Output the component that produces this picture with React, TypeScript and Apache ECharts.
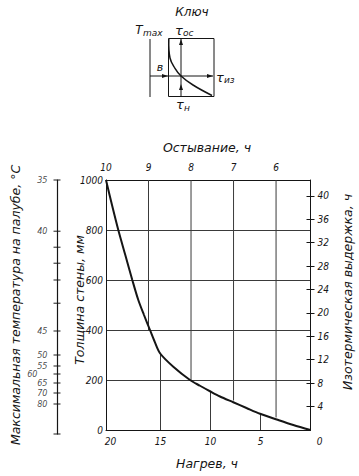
import React, { useEffect, useRef } from "react";
import * as echarts from "echarts";

// ---- data ----
// main curve: heating time (h) vs wall thickness (mm)
const heatingHours = [20.45, 19.85, 19.22, 18.52, 17.82, 17.22, 16.65, 16.05, 15.62, 15.05, 13.72, 12.05, 11.05, 10.05, 9.05, 7.72, 6.4, 5.05, 3.38, 1.72, 0];
const wallThicknessMm = [1000, 900, 800, 700, 600, 520, 460, 400, 357, 307, 253, 200, 177, 155, 134, 111, 88, 65, 42, 20, 0];

// bottom axis (heating, h)
const heatingTicks = [20, 15, 10, 5, 0];
const heatingMax = 20.45;
// partial grid lines from the heating axis (0 mm) up to the curve
const heatingGridHours = [15, 10, 5];
const heatingGridEndMm = [309, 156, 64];

// top axis (cooling, h)
const coolingTicks = [10, 9, 8, 7, 6];
const coolingMin = 5.19;
const coolingMax = 10;
// partial grid lines from the cooling ticks (at 1000 mm) down to the curve
const coolingGridHours = [9, 8, 7, 6];
const coolingGridEndMm = [400, 200, 118, 50];

// left axis (wall thickness, mm)
const thicknessTicks = [0, 200, 400, 600, 800, 1000];

// right axis (isothermal holding, h)
const isoTicks = [4, 8, 12, 16, 20, 24, 28, 32, 36, 40];
const isoMax = 42.7;

// far-left nonlinear axis: max deck temperature (°C) and its position on the thickness scale (mm)
const tempValues = [35, 40, 41, 42, 43, 44, 45, 50, 55, 60, 65, 70, 80];
const tempPosMm = [1000, 795, 731, 667, 600, 507, 396, 300, 256, 224, 188, 148, 104];
const tempLabeled = [true, true, false, false, false, false, true, true, true, true, true, true, true];
const tempAxisEndMm = -16;

const FONT = "'DejaVu Sans', 'Liberation Sans', sans-serif";
const NUMFONT = "'DejaVu Sans Condensed', 'Liberation Sans Narrow', 'Liberation Sans', sans-serif";
const INK = "#151515";
const GRID = "#3a3a3a";

const numLabel = {
  fontSize: 10,
  fontStyle: "italic" as const,
  color: INK,
  fontFamily: NUMFONT,
};

function txt(text: string, x: number, y: number, size: number, opts: any = {}) {
  return {
    type: "text",
    x,
    y,
    rotation: opts.rotation || 0,
    style: {
      text,
      fontSize: size,
      fontStyle: "italic",
      fontFamily: FONT,
      fill: INK,
      align: opts.align || "center",
      verticalAlign: "middle",
    },
  };
}

function line(x1: number, y1: number, x2: number, y2: number, stroke = INK, z = 0) {
  return {
    type: "line",
    z,
    shape: { x1, y1, x2, y2 },
    style: { stroke, lineWidth: 1 },
  };
}

function arrow(points: number[][]) {
  return { type: "polygon", shape: { points }, style: { fill: INK } };
}

const keyGraphics = [
  txt("Ключ", 192, 12, 12),
  txt("T", 139, 30, 12),
  txt("max", 143, 33, 9, { align: "left" }),
  txt("τ", 179, 30, 13),
  txt("ос", 183, 33, 9, { align: "left" }),
  txt("τ", 220, 77, 13),
  txt("из", 224, 80, 9, { align: "left" }),
  txt("τ", 180, 104, 13),
  txt("н", 184, 108, 9, { align: "left" }),
  txt("в", 160, 67, 11),
  {
    type: "rect",
    shape: { x: 168.5, y: 38.5, width: 45.5, height: 58 },
    style: { stroke: INK, fill: "none", lineWidth: 1 },
  },
  line(150, 39, 150, 97),
  line(150, 76, 213, 76),
  line(181, 38.5, 181, 96.5),
  {
    type: "polyline",
    shape: {
      points: [
        [168.8, 39],
        [170, 58],
        [175, 68.3],
        [181, 76],
        [193, 85],
        [212, 95.5],
      ],
      smooth: 0.4,
    },
    style: { stroke: INK, lineWidth: 1.5, fill: "none" },
  },
  arrow([[181, 39], [179, 45], [183, 45]]),
  arrow([[181, 84], [179, 90], [183, 90]]),
  arrow([[168, 76], [162, 74], [162, 78]]),
  arrow([[213, 76], [207, 74], [207, 78]]),
];

const titleGraphics = [
  txt("Остывание, ч", 207, 147, 12.5),
  txt("Нагрев, ч", 207, 463, 12.5),
  txt("Толщина стены, мм", 79, 300, 12.5, { rotation: Math.PI / 2 }),
  txt("Максимальная температура на палубе, °С", 15, 305, 12.5, { rotation: Math.PI / 2 }),
  txt("Изотермическая выдержка, ч", 347, 292, 12.5, { rotation: Math.PI / 2 }),
];

const tempData = tempValues
  .map((t, i) => ({
    value: [0, tempPosMm[i]],
    label: {
      show: tempLabeled[i],
      formatter: String(t),
      offset: t === 60 ? [-10, 0] : [0, 0],
    },
  }))
  .concat([{ value: [0, tempAxisEndMm], label: { show: false, formatter: "", offset: [0, 0] } }]);

const option: any = {
  animation: false,
  backgroundColor: "#ffffff",
  grid: [
    { left: 106, top: 180, width: 204.5, height: 250 },
    { left: 57, top: 180, width: 10, height: 254 },
  ],
  xAxis: [
    {
      gridIndex: 0,
      type: "value",
      position: "bottom",
      min: 0,
      max: heatingMax,
      inverse: true,
      interval: 5,
      axisLine: { show: true, onZero: false, lineStyle: { color: INK, width: 1 } },
      axisTick: { show: false },
      splitLine: { show: false },
      axisLabel: {
        ...numLabel,
        customValues: heatingTicks,
        margin: 6,
        formatter: (v: number) =>
          Number.isInteger(v) && v % 5 === 0 ? (v === 0 ? "{r|0}" : String(v)) : "",
        rich: { r: { ...numLabel, padding: [0, 0, 0, 18] } },
      },
    },
    {
      gridIndex: 0,
      type: "value",
      position: "top",
      min: coolingMin,
      max: coolingMax,
      inverse: true,
      axisLine: { show: true, onZero: false, lineStyle: { color: INK, width: 1 } },
      axisTick: { show: false },
      splitLine: { show: false },
      axisLabel: {
        ...numLabel,
        customValues: coolingTicks,
        margin: 8,
        showMinLabel: true,
        showMaxLabel: true,
        formatter: (v: number) => (Number.isInteger(v) && v >= 6 ? String(v) : ""),
      },
    },
    { gridIndex: 1, type: "value", min: 0, max: 1, show: false },
  ],
  yAxis: [
    {
      gridIndex: 0,
      type: "value",
      position: "left",
      min: 0,
      max: 1000,
      interval: 200,
      axisLine: { show: true, onZero: false, lineStyle: { color: INK, width: 1 } },
      axisTick: { show: false },
      axisLabel: { ...numLabel, customValues: thicknessTicks, margin: 3, formatter: (v: number) => String(v) },
      splitLine: { show: true, lineStyle: { color: GRID, width: 1 } },
    },
    {
      gridIndex: 0,
      type: "value",
      position: "right",
      min: 0,
      max: isoMax,
      interval: 4,
      axisLine: { show: true, onZero: false, lineStyle: { color: INK, width: 1 } },
      axisTick: { show: true, length: 4, customValues: isoTicks, lineStyle: { color: INK } },
      axisLabel: {
        ...numLabel,
        customValues: isoTicks,
        margin: 7,
        formatter: (v: number) => (v > 0 && v <= 40 && v % 4 === 0 ? String(v) : ""),
      },
      splitLine: { show: false },
    },
    {
      gridIndex: 0,
      type: "value",
      position: "right",
      min: 0,
      max: isoMax,
      interval: 4,
      axisLine: { show: false },
      axisTick: { show: true, inside: true, length: 4, customValues: isoTicks, lineStyle: { color: INK } },
      axisLabel: { show: false },
      splitLine: { show: false },
    },
    {
      gridIndex: 1,
      type: "value",
      position: "left",
      min: tempAxisEndMm,
      max: 1000,
      axisLine: { show: true, onZero: false, lineStyle: { color: INK, width: 1.2 } },
      axisTick: { show: false },
      axisLabel: { show: false },
      splitLine: { show: false },
    },
  ],
  series: [
    {
      name: "heatingSegments",
      type: "custom",
      xAxisIndex: 0,
      yAxisIndex: 0,
      silent: true,
      z: 2,
      data: heatingGridHours.map((h, i) => [h, heatingGridEndMm[i]]),
      renderItem: (_params: any, api: any) => {
        const p1 = api.coord([api.value(0), 0]);
        const p2 = api.coord([api.value(0), api.value(1)]);
        return {
          type: "line",
          shape: { x1: p1[0], y1: p1[1], x2: p2[0], y2: p2[1] },
          style: { stroke: GRID, lineWidth: 1 },
        };
      },
    },
    {
      name: "curve",
      type: "line",
      xAxisIndex: 0,
      yAxisIndex: 0,
      symbol: "none",
      smooth: 0.3,
      z: 5,
      lineStyle: { color: INK, width: 2 },
      data: heatingHours.map((h, i) => [h, wallThicknessMm[i]]),
    },
    {
      name: "temp",
      type: "scatter",
      xAxisIndex: 2,
      yAxisIndex: 3,
      symbol: "rect",
      symbolSize: [7, 1.2],
      itemStyle: { color: INK },
      label: { show: true, position: "left", distance: 6, ...numLabel, fontSize: 9 },
      data: tempData,
    },
  ],
  graphic: [...keyGraphics, ...titleGraphics],
};

export default function App() {
  const ref = useRef<HTMLDivElement>(null);
  useEffect(() => {
    const chart = echarts.init(ref.current!, null, { renderer: "svg" });
    chart.setOption(option);
    // cooling-side partial grid lines, placed through the cooling (x) and thickness (y) axes' scales
    const extra: any[] = [];
    coolingGridHours.forEach((h, i) => {
      const x = chart.convertToPixel({ xAxisIndex: 1 } as any, h) as any;
      const y1 = chart.convertToPixel({ yAxisIndex: 0 } as any, 1000) as any;
      const y2 = chart.convertToPixel({ yAxisIndex: 0 } as any, coolingGridEndMm[i]) as any;
      if ([x, y1, y2].every((v) => typeof v === "number" && isFinite(v))) {
        extra.push(line(x, y1, x, y2, GRID, 3));
      }
    });
    if (extra.length) {
      chart.setOption({ graphic: [...keyGraphics, ...titleGraphics, ...extra] });
    }
    return () => chart.dispose();
  }, []);
  return (
    <div
      ref={ref}
      style={{ position: "fixed", left: 0, top: 0, width: 359, height: 476, background: "#fff" }}
    />
  );
}
